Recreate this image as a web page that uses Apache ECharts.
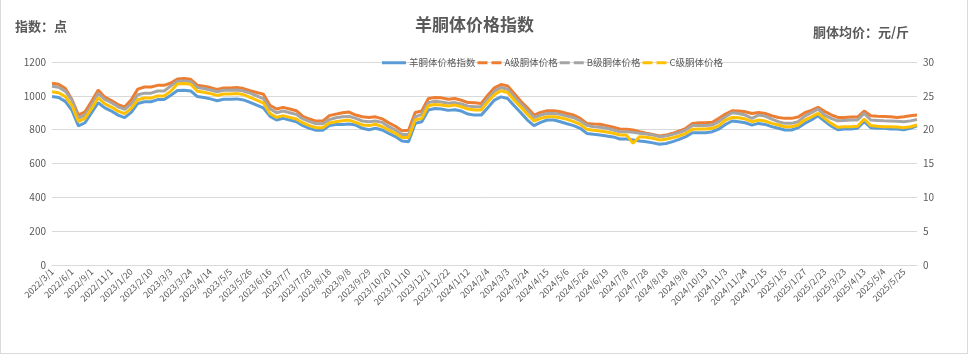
<!DOCTYPE html>
<html><head><meta charset="utf-8">
<script src="https://cdn.jsdelivr.net/npm/echarts@6/dist/echarts.min.js"></script>
<style>
html,body{margin:0;padding:0;background:#fff;}
#wrap{position:absolute;left:0;top:0;width:966px;height:353px;border:1px solid #d9d9d9;border-top:none;}
#c{width:968px;height:355px;position:absolute;left:0;top:0;}
</style></head>
<body><div id="wrap"></div><div id="c"></div>
<script>
const categories = ["2022/3/1","2022/4/1","2022/5/1","2022/6/1","2022/7/1","2022/8/1","2022/9/1","2022/10/1","2022/10/15","2022/11/1",
"2022/12/1","2023/1/1","2023/1/20","2023/1/27","2023/2/3","2023/2/10","2023/2/17","2023/2/24","2023/3/3","2023/3/10",
"2023/3/17","2023/3/24","2023/3/31","2023/4/7","2023/4/14","2023/4/21","2023/4/28","2023/5/5","2023/5/12","2023/5/19",
"2023/5/26","2023/6/2","2023/6/9","2023/6/16","2023/6/23","2023/6/30","2023/7/7","2023/7/14","2023/7/21","2023/7/28",
"2023/8/4","2023/8/11","2023/8/18","2023/8/25","2023/9/1","2023/9/8","2023/9/15","2023/9/22","2023/9/29","2023/10/6",
"2023/10/13","2023/10/20","2023/10/27","2023/11/3","2023/11/10","2023/11/17","2023/11/24","2023/12/1","2023/12/8","2023/12/15",
"2023/12/22","2023/12/29","2024/1/5","2024/1/12","2024/1/19","2024/1/26","2024/2/4","2024/2/18","2024/2/25","2024/3/3",
"2024/3/10","2024/3/17","2024/3/24","2024/3/31","2024/4/7","2024/4/15","2024/4/22","2024/4/29","2024/5/6","2024/5/12",
"2024/5/19","2024/5/26","2024/6/2","2024/6/12","2024/6/19","2024/6/24","2024/7/1","2024/7/8","2024/7/14","2024/7/21",
"2024/7/28","2024/8/4","2024/8/11","2024/8/18","2024/8/25","2024/9/1","2024/9/8","2024/9/22","2024/9/29","2024/10/13",
"2024/10/20","2024/10/27","2024/11/3","2024/11/10","2024/11/17","2024/11/24","2024/12/1","2024/12/8","2024/12/15","2024/12/22",
"2024/12/29","2025/1/5","2025/1/12","2025/1/19","2025/1/27","2025/2/9","2025/2/16","2025/2/23","2025/3/2","2025/3/9",
"2025/3/23","2025/3/30","2025/4/6","2025/4/13","2025/4/20","2025/4/27","2025/5/4","2025/5/11","2025/5/18","2025/5/25",
"2025/6/1","2025/6/8"];

const indexValues = [996,990,967,916,822,841,900,959,929,910,
886,871,902,955,965,965,978,978,1004,1031,
1033,1029,996,990,982,971,980,980,982,976,
961,945,929,880,857,867,857,847,824,808,
796,796,824,831,831,833,827,808,800,808,
798,778,759,733,729,837,847,916,925,922,
914,918,910,892,886,886,929,975,994,984,
941,900,857,824,843,857,857,847,835,824,
808,778,773,769,763,757,745,745,739,733,
729,722,714,718,729,743,759,782,782,782,
788,804,831,851,847,841,827,837,831,818,
808,798,798,812,837,857,882,851,822,800,
804,804,808,847,812,808,808,804,804,800,
808,822];

const gradeA = [26.86,26.7,26.1,24.5,22.16,22.65,24.2,25.85,24.8,24.3,
23.7,23.35,24.4,26.0,26.3,26.3,26.55,26.55,26.9,27.5,
27.55,27.45,26.57,26.42,26.22,25.95,26.17,26.17,26.22,26.07,
25.75,25.5,25.25,23.62,23.05,23.3,23.05,22.8,21.97,21.57,
21.27,21.27,22.07,22.3,22.5,22.6,22.16,21.9,21.8,21.9,
21.6,21.0,20.5,19.85,19.9,22.55,22.75,24.6,24.75,24.7,
24.5,24.6,24.35,24.0,23.97,23.87,25.1,26.18,26.67,26.47,
25.34,24.2,23.24,22.16,22.55,22.8,22.8,22.65,22.4,22.16,
21.67,20.93,20.84,20.8,20.6,20.35,20.1,20.05,19.95,19.7,
19.46,19.3,19.07,19.2,19.46,19.8,20.2,20.93,21.03,21.03,
21.08,21.67,22.3,22.8,22.75,22.65,22.4,22.55,22.4,22.06,
21.8,21.67,21.67,21.86,22.5,22.84,23.3,22.7,22.2,21.8,
21.8,21.86,21.86,22.75,22.06,22.0,21.96,21.9,21.8,21.9,
22.06,22.16];

const gradeB = [26.42,26.27,25.7,24.4,21.7,22.16,23.63,25.35,24.46,23.98,
23.38,23.01,23.78,25.15,25.4,25.4,25.72,25.72,26.47,27.15,
27.2,27.1,26.22,26.07,25.87,25.6,25.82,25.82,25.87,25.72,
25.4,25.0,24.6,23.08,22.51,22.76,22.51,22.26,21.58,21.18,
20.88,20.88,21.48,21.77,21.9,21.96,21.67,21.28,21.18,21.28,
21.08,20.44,19.95,19.3,19.3,21.9,22.26,24.0,24.2,24.1,
23.9,24.0,23.8,23.48,23.38,23.38,24.6,25.69,26.23,25.98,
24.85,23.82,22.84,21.8,22.16,22.4,22.4,22.26,22.0,21.77,
21.3,20.64,20.44,20.35,20.2,19.95,19.7,19.7,19.6,19.46,
19.36,19.2,18.97,19.07,19.3,19.56,19.95,20.6,20.6,20.6,
20.7,21.2,21.9,22.5,22.4,22.16,21.67,22.16,22.0,21.57,
21.18,20.93,20.93,21.18,22.0,22.5,23.04,22.16,21.67,21.3,
21.37,21.42,21.42,22.4,21.42,21.37,21.3,21.28,21.23,21.18,
21.3,21.5];

const gradeC = [25.6,25.45,24.9,23.6,21.2,21.67,23.14,24.72,23.82,23.34,
22.74,22.37,23.14,24.42,24.67,24.67,24.99,24.99,25.7,26.76,
26.81,26.71,25.68,25.53,25.33,25.06,25.28,25.28,25.33,25.18,
24.77,24.37,23.97,22.39,21.82,22.07,21.82,21.57,20.99,20.59,
20.29,20.29,20.99,21.18,21.33,21.42,21.08,20.7,20.6,20.8,
20.44,19.95,19.46,18.83,18.83,21.42,21.67,23.53,23.73,23.63,
23.48,23.63,23.38,23.04,22.9,22.9,24.12,25.2,25.74,25.49,
24.36,23.33,22.26,21.28,21.67,21.9,21.9,21.77,21.52,21.18,
20.79,20.05,19.9,19.8,19.66,19.46,19.22,19.2,18.0,18.97,
18.87,18.73,18.48,18.58,18.83,19.07,19.46,20.05,20.1,20.1,
20.2,20.6,21.42,21.8,21.77,21.57,21.18,21.42,21.28,20.93,
20.7,20.44,20.44,20.7,21.42,21.9,22.4,21.67,20.93,20.35,
20.44,20.44,20.5,21.57,20.6,20.5,20.44,20.44,20.4,20.3,
20.44,20.7];

const leftTicks = [0, 1200, 200];
const rightTicks = [0, 30, 5];
const seriesNames = ["羊胴体价格指数","A级胴体价格","B级胴体价格","C级胴体价格"];
const colors = ["#5B9BD5","#ED7D31","#A5A5A5","#FFC000"];

const txt = "#595959";
const font = "'Noto Sans CJK SC', 'Noto Sans', sans-serif";
const dashIcon = 'path://M0,0H10V3H0Z M14,0H24V3H14Z';
const solidIcon = 'path://M0,0H24V3H0Z';

const chart = echarts.init(document.getElementById('c'), null, {renderer:'canvas'});
chart.setOption({
  backgroundColor: 'transparent',
  animation: false,
  color: colors,
  textStyle: {fontFamily: font},
  title: [
    {text: '羊胴体价格指数', left: 410, top: 11, textStyle: {fontSize: 17, fontWeight: 'bold', color: txt, fontFamily: font}},
    {text: '指数：点', left: 10, top: 15, textStyle: {fontSize: 13, fontWeight: 'bold', color: txt, fontFamily: font}},
    {text: '胴体均价：元/斤', left: 808, top: 21, textStyle: {fontSize: 13, fontWeight: 'bold', color: txt, fontFamily: font}}
  ],
  legend: {
    left: 377, top: 53,
    itemWidth: 24, itemHeight: 3, itemGap: 2,
    textStyle: {fontSize: 9.5, color: txt, fontFamily: font, padding: [0,0,0,-2]},
    data: [
      {name: seriesNames[0], icon: solidIcon},
      {name: seriesNames[1], icon: dashIcon},
      {name: seriesNames[2], icon: dashIcon},
      {name: seriesNames[3], icon: dashIcon}
    ]
  },
  grid: {left: 52, right: 51, top: 62, bottom: 90, containLabel: false},
  xAxis: {
    type: 'category', data: categories, boundaryGap: false,
    axisLine: {show: true, lineStyle: {color: '#d9d9d9'}},
    axisTick: {show: false},
    axisLabel: {interval: 2, rotate: 45, fontSize: 9, color: txt, margin: 5, fontFamily: font},
    splitLine: {show: false}
  },
  yAxis: [
    {type: 'value', min: leftTicks[0], max: leftTicks[1], interval: leftTicks[2],
      axisLine: {show: false}, axisTick: {show: false},
      axisLabel: {fontSize: 10, color: txt, margin: 6, fontFamily: font, formatter: function (v) { return String(v); }},
      splitLine: {lineStyle: {color: '#d9d9d9', width: 1}}},
    {type: 'value', min: rightTicks[0], max: rightTicks[1], interval: rightTicks[2],
      axisLine: {show: false}, axisTick: {show: false},
      axisLabel: {fontSize: 10, color: txt, margin: 6, fontFamily: font, formatter: function (v) { return String(v); }},
      splitLine: {show: false}}
  ],
  series: [
    {name: seriesNames[0], type: 'line', yAxisIndex: 0, data: indexValues, symbol: 'none', lineStyle: {width: 3, color: colors[0]}},
    {name: seriesNames[1], type: 'line', yAxisIndex: 1, data: gradeA, symbol: 'none', lineStyle: {width: 3, color: colors[1]}},
    {name: seriesNames[2], type: 'line', yAxisIndex: 1, data: gradeB, symbol: 'none', lineStyle: {width: 3, color: colors[2]}},
    {name: seriesNames[3], type: 'line', yAxisIndex: 1, data: gradeC, symbol: 'none', lineStyle: {width: 3, color: colors[3]}}
  ]
});
</script></body></html>
